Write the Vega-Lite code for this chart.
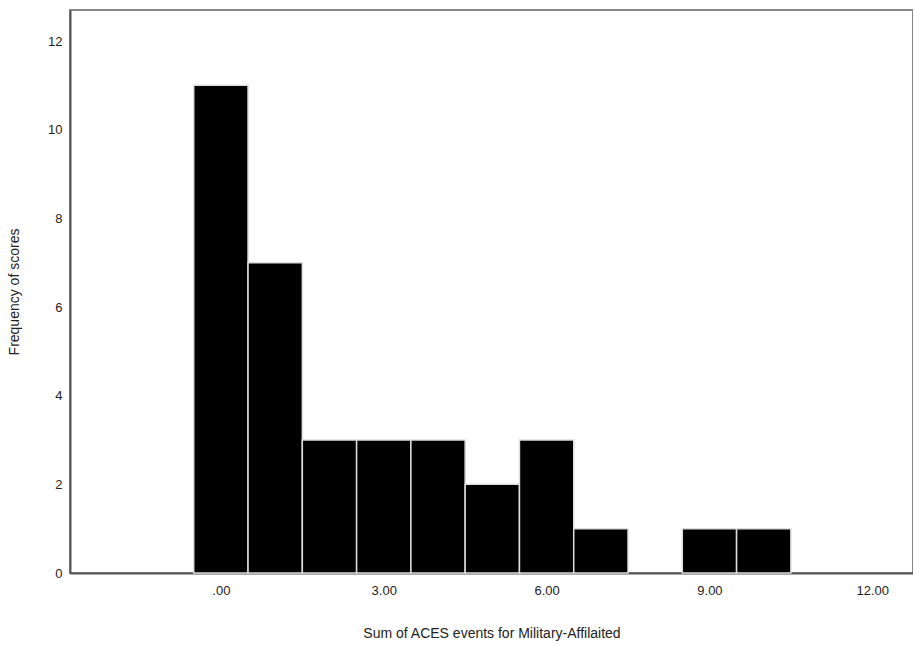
{
  "$schema": "https://vega.github.io/schema/vega-lite/v6.json",
  "autosize": "none",
  "padding": {"left": 70, "top": 10, "right": 0, "bottom": 72},
  "width": 843,
  "height": 563,
  "background": "white",
  "config": {
    "font": "Liberation Sans",
    "view": {"stroke": "#888888", "strokeWidth": 2},
    "axis": {"grid": false, "ticks": false, "domainColor": "#555555", "domainWidth": 2, "labelFont": "Liberation Sans", "titleFont": "Liberation Sans", "labelFontSize": 13, "titleFontSize": 14, "labelColor": "#222222", "titleColor": "#222222", "titleFontWeight": "normal"}
  },
  "data": {
    "values": [
      {"score": 0, "lo": -0.5, "hi": 0.5, "count": 11},
      {"score": 1, "lo": 0.5, "hi": 1.5, "count": 7},
      {"score": 2, "lo": 1.5, "hi": 2.5, "count": 3},
      {"score": 3, "lo": 2.5, "hi": 3.5, "count": 3},
      {"score": 4, "lo": 3.5, "hi": 4.5, "count": 3},
      {"score": 5, "lo": 4.5, "hi": 5.5, "count": 2},
      {"score": 6, "lo": 5.5, "hi": 6.5, "count": 3},
      {"score": 7, "lo": 6.5, "hi": 7.5, "count": 1},
      {"score": 9, "lo": 8.5, "hi": 9.5, "count": 1},
      {"score": 10, "lo": 9.5, "hi": 10.5, "count": 1}
    ]
  },
  "mark": {"type": "rect", "color": "black", "stroke": "#dddddd", "strokeWidth": 1.5},
  "encoding": {
    "x": {
      "field": "lo", "type": "quantitative",
      "scale": {"domain": [-2.78, 12.75], "nice": false, "zero": false},
      "axis": {"values": [0, 3, 6, 9, 12], "labelExpr": "datum.value == 0 ? '.00' : format(datum.value, '.2f')", "labelPadding": 11, "title": "Sum of ACES events for Military-Affilaited", "titlePadding": 29, "labelFlush": false}
    },
    "x2": {"field": "hi"},
    "y": {
      "field": "count", "type": "quantitative",
      "scale": {"domain": [0, 12.7], "nice": false},
      "axis": {"values": [0, 2, 4, 6, 8, 10, 12], "labelPadding": 8, "title": "Frequency of scores", "titlePadding": 26, "labelFlush": false}
    },
    "y2": {"datum": 0}
  }
}
